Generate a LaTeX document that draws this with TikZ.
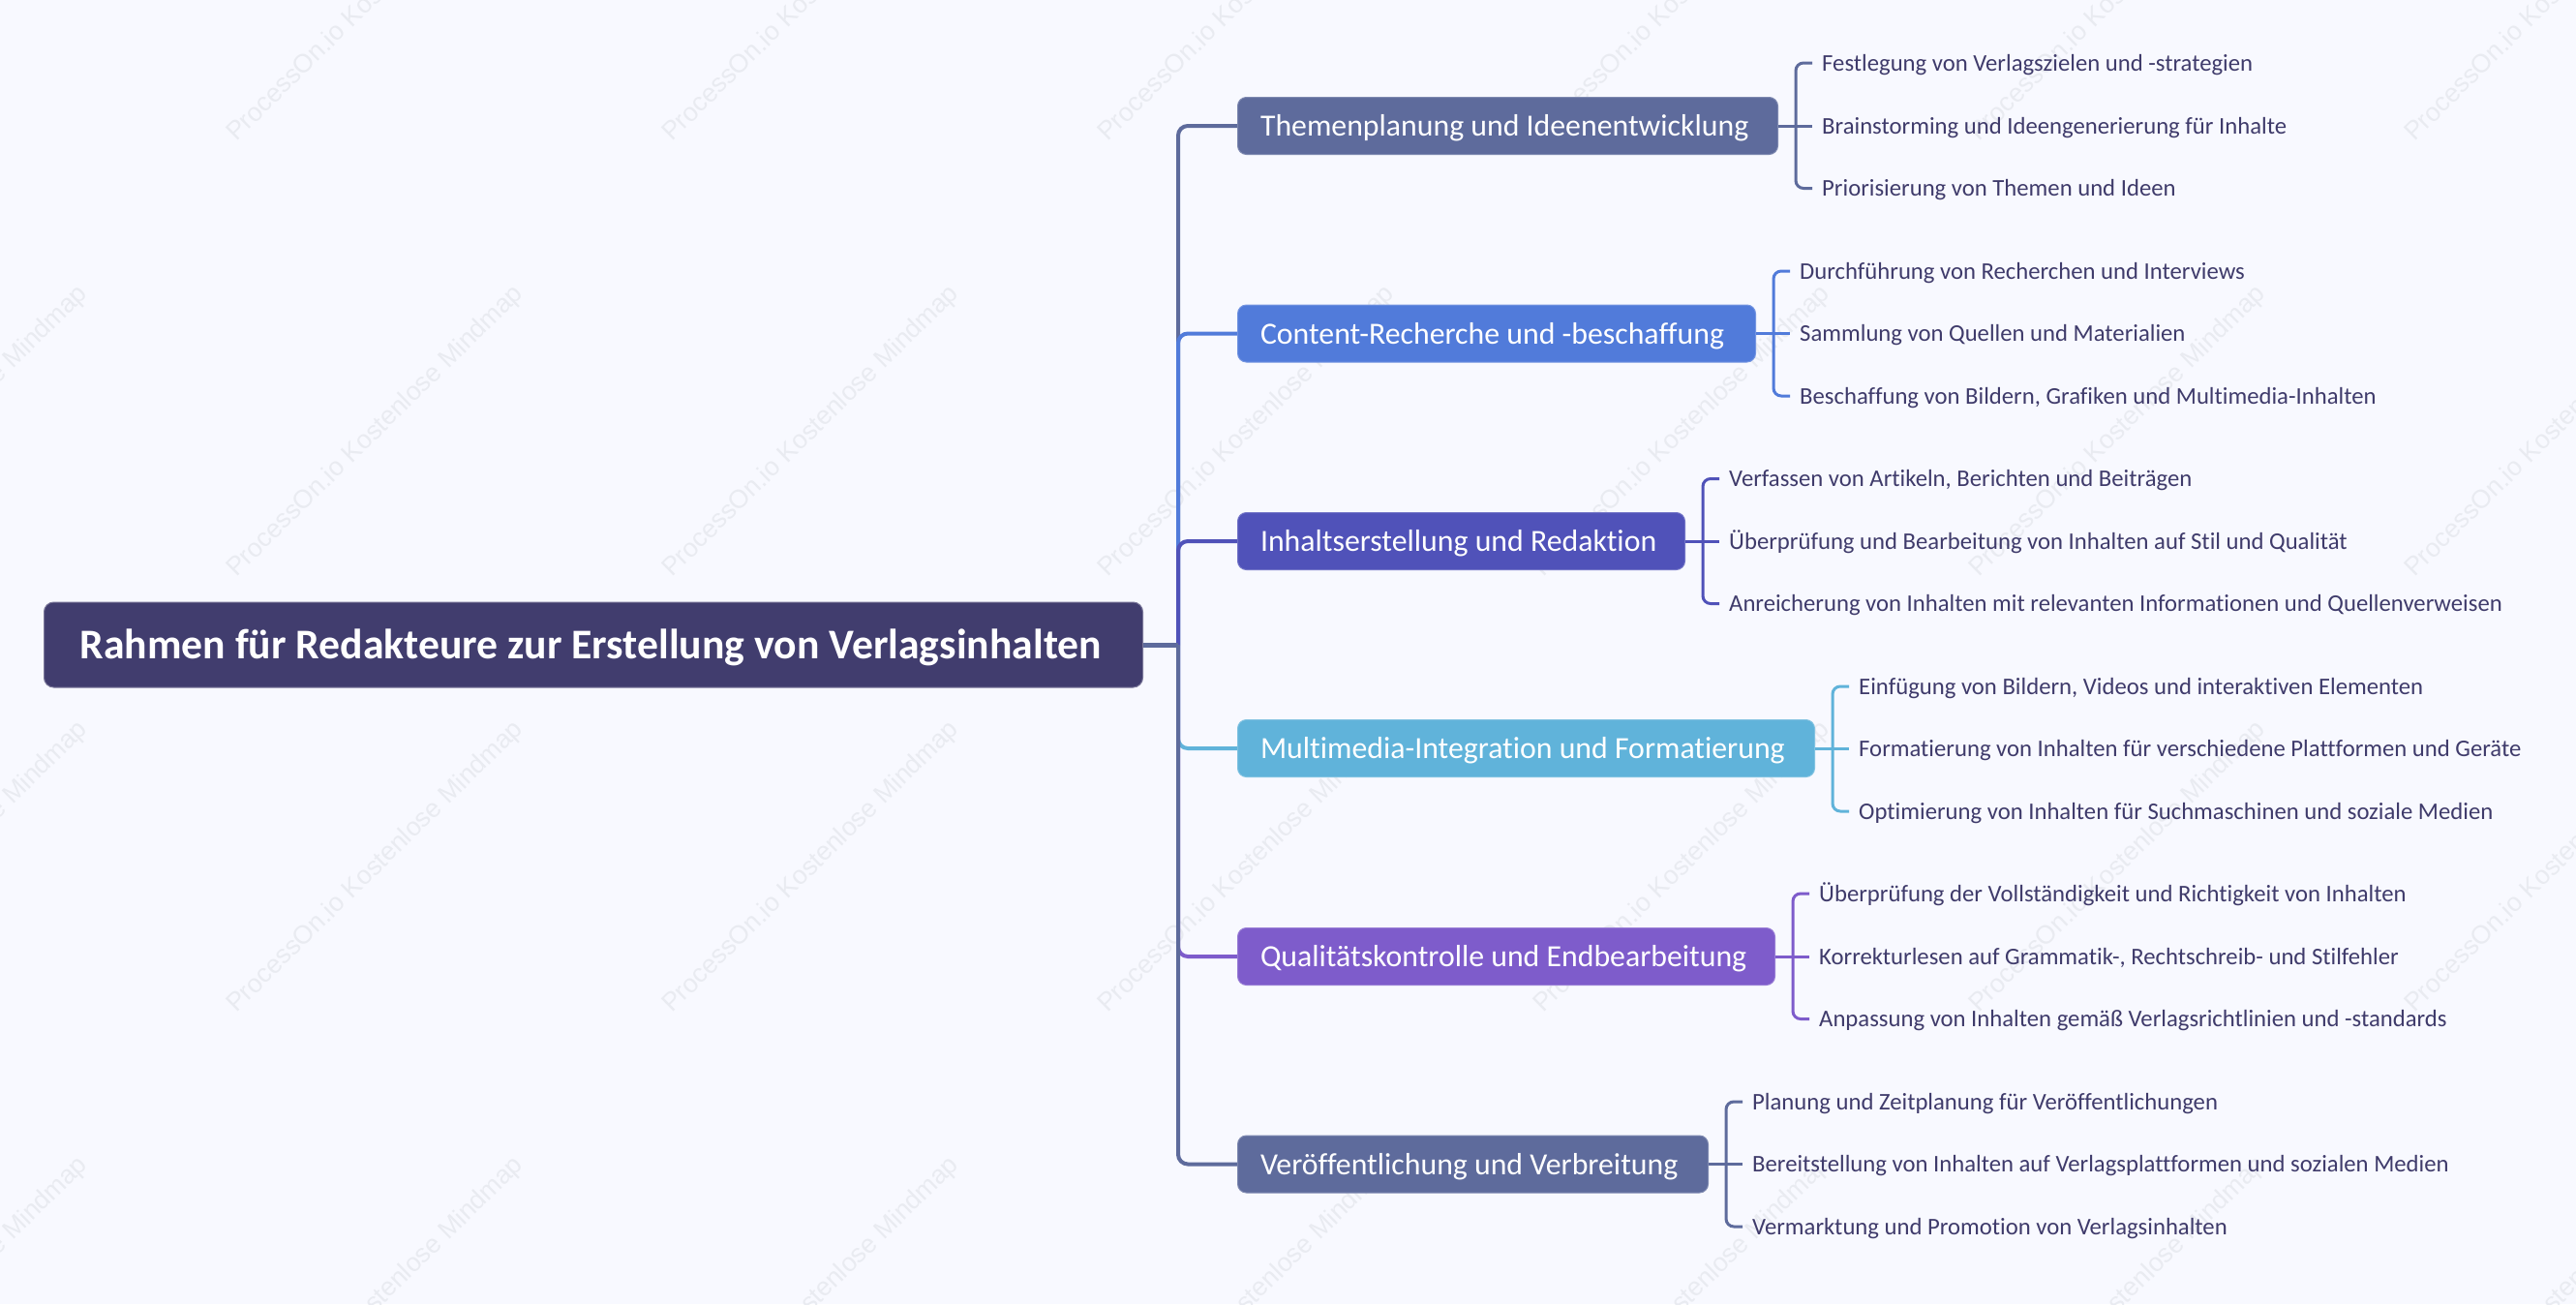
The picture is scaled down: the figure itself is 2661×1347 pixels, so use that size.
\documentclass[tikz,border=0pt]{standalone}
\usepackage{fontspec}
\setmainfont[Ligatures=NoCommon]{Carlito}
\newfontfamily\wmfont{Liberation Sans}
\usepackage{xcolor}
\definecolor{bg}{HTML}{F8F9FF}
\definecolor{wm}{HTML}{E9EBF1}
\definecolor{ink}{HTML}{3F3B6B}
\definecolor{cRoot}{HTML}{413D6E}
\definecolor{cA}{HTML}{5E6B9C}
\definecolor{cB}{HTML}{517BDA}
\definecolor{cC}{HTML}{5052B9}
\definecolor{cD}{HTML}{60B3DA}
\definecolor{cE}{HTML}{7E5CCB}
\tikzset{
	rootnode/.style={rounded corners=10pt,fill=cRoot,draw=cRoot!70!white,line width=1pt,text=white,inner xsep=37pt,text width=1061pt,minimum height=88pt,text height=33pt,text depth=4pt,anchor=west,align=flush left,font=\fontsize{43.7}{48}\selectfont\bfseries},
	topic/.style={rounded corners=9pt,fill=#1,draw=#1!80!white,line width=1pt,text=white,inner xsep=23.5pt,minimum height=59pt,text height=24pt,text depth=3pt,anchor=west,align=flush left,font=\fontsize{31.8}{38}\selectfont},
	leaf/.style={text=ink,inner xsep=10pt,inner ysep=0pt,text height=19pt,text depth=3pt,anchor=west,font=\fontsize{24.7}{30}\selectfont},
	trunk/.style={#1,line width=4pt,rounded corners=10pt},
	twig/.style={#1,line width=3pt,rounded corners=8pt},
	mark text/.style={text=wm,rotate=44.5,anchor=base west,inner sep=0pt,font=\wmfont\fontsize{26.7}{32}\selectfont}
}
\begin{document}
\begin{tikzpicture}[x=1pt,y=-1pt]
	\useasboundingbox (0,0) rectangle (2661,1347);
	\clip (0,0) rectangle (2661,1347);
	\fill [bg] (0,0) rectangle (2661,1347);
	% watermark
	\foreach \x in {-206,244,694,1144,1594,2044,2494}
	\foreach \y in {147,597,1047,1497}
	\node [mark text] (wm\x\y) at (\x,\y) {ProcessOn.io Kostenlose Mindmap};
	% root
	\node [rootnode] (root) at (45,666) {Rahmen für Redakteure zur Erstellung von Verlagsinhalten};
	\coordinate (hub) at (1217,666);
	% topics
	\node [topic=cA,text width=511pt] (t1) at (1278,130) {Themenplanung und Ideenentwicklung};
	\node [topic=cB,text width=488pt] (t2) at (1278,344.5) {Content-Recherche und -beschaffung};
	\node [topic=cC,text width=415pt] (t3) at (1278,559) {Inhaltserstellung und Redaktion};
	\node [topic=cD,text width=549pt] (t4) at (1278,773) {Multimedia-Integration und Formatierung};
	\node [topic=cE,text width=508pt] (t5) at (1278,988) {Qualitätskontrolle und Endbearbeitung};
	\node [topic=cA,text width=439pt] (t6) at (1278,1202.5) {Veröffentlichung und Verbreitung};
	% trunk
	\foreach \n/\c in {1/cA,2/cB,3/cC,4/cD,5/cE,6/cA}
	\draw [trunk=\c] (hub) |- (t\n.west);
	\draw [cA,line width=5pt] (root.east) -- (hub);
	% topic 1
	\node [leaf] (l11) at (1872,65) {Festlegung von Verlagszielen und -strategien};
	\node [leaf] (l12) at (1872,130) {Brainstorming und Ideengenerierung für Inhalte};
	\node [leaf] (l13) at (1872,194.5) {Priorisierung von Themen und Ideen};
	% topic 2
	\node [leaf] (l21) at (1849,280) {Durchführung von Recherchen und Interviews};
	\node [leaf] (l22) at (1849,344.5) {Sammlung von Quellen und Materialien};
	\node [leaf] (l23) at (1849,409) {Beschaffung von Bildern, Grafiken und Multimedia-Inhalten};
	% topic 3
	\node [leaf] (l31) at (1776,494.5) {Verfassen von Artikeln, Berichten und Beiträgen};
	\node [leaf] (l32) at (1776,559) {Überprüfung und Bearbeitung von Inhalten auf Stil und Qualität};
	\node [leaf] (l33) at (1776,623.5) {Anreicherung von Inhalten mit relevanten Informationen und Quellenverweisen};
	% topic 4
	\node [leaf] (l41) at (1910,709) {Einfügung von Bildern, Videos und interaktiven Elementen};
	\node [leaf] (l42) at (1910,773) {Formatierung von Inhalten für verschiedene Plattformen und Geräte};
	\node [leaf] (l43) at (1910,838) {Optimierung von Inhalten für Suchmaschinen und soziale Medien};
	% topic 5
	\node [leaf] (l51) at (1869,923) {Überprüfung der Vollständigkeit und Richtigkeit von Inhalten};
	\node [leaf] (l52) at (1869,988) {Korrekturlesen auf Grammatik-, Rechtschreib- und Stilfehler};
	\node [leaf] (l53) at (1869,1052.5) {Anpassung von Inhalten gemäß Verlagsrichtlinien und -standards};
	% topic 6
	\node [leaf] (l61) at (1800,1138) {Planung und Zeitplanung für Veröffentlichungen};
	\node [leaf] (l62) at (1800,1202.5) {Bereitstellung von Inhalten auf Verlagsplattformen und sozialen Medien};
	\node [leaf] (l63) at (1800,1267) {Vermarktung und Promotion von Verlagsinhalten};
	% twigs
	\foreach \n/\c/\x in {1/cA/1855,2/cB/1832,3/cC/1759,4/cD/1893,5/cE/1852,6/cA/1783}{
	\coordinate (fork\n) at (\x,0 |- t\n.east);
	\draw [twig=\c] (t\n.east) -- (l\n2.west);
	\draw [twig=\c] (fork\n) |- (l\n1.west);
	\draw [twig=\c] (fork\n) |- (l\n3.west);
	}
\end{tikzpicture}
\end{document}
